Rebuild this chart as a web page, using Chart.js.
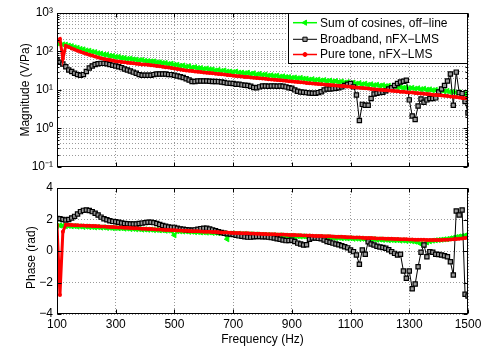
<!DOCTYPE html>
<html>
<head>
<meta charset="utf-8">
<script src="https://cdn.jsdelivr.net/npm/chart.js@4/dist/chart.umd.min.js"></script>
<style>
html, body { margin: 0; padding: 0; background: #fff; }
#wrap { position: relative; width: 486px; height: 347px; }
#wrap canvas { position: absolute; left: 0; }
</style>
</head>
<body>
<div id="wrap">
  <canvas id="magChart" width="486" height="178" style="top:0"></canvas>
  <canvas id="phaseChart" width="486" height="171" style="top:176px"></canvas>
</div>
<script>
// frequency points, every 10 Hz from 100 to 1500
var freqHz = [];
for (var f = 100; f <= 1500; f += 10) freqHz.push(f);

var seriesNames = ['Sum of cosines, off\u2212line', 'Broadband, nFX\u2212LMS', 'Pure tone, nFX\u2212LMS'];
var xTicks = [100, 300, 500, 700, 900, 1100, 1300, 1500];
var magDecades = [0.1, 1, 10, 100, 1000];
var magTickLabels = ['10\u207B\u00B9', '10\u2070', '10\u00B9', '10\u00B2', '10\u00B3'];
var phaseTicks = [-4, -2, 0, 2, 4];

// magnitude (V/Pa)
var magSumCos = [
  165, 158, 152, 150, 142, 137, 128, 124, 116, 113,
  106, 104, 98, 96, 90, 88, 83, 82, 77, 76,
  72, 72, 68, 67, 64, 65, 62, 61, 59, 60,
  57, 56, 55, 55, 52, 52, 50, 50, 47, 48,
  45, 45, 42, 43, 40, 41, 38, 39, 37, 37,
  35, 36, 34, 34, 32, 33, 31, 32, 30, 30,
  29, 30, 28, 28, 27, 28, 26, 27, 25, 26,
  24.5, 25, 23.5, 24, 23, 23.5, 22, 22.5, 21.5, 21.5,
  20.5, 21, 20, 20.5, 19.5, 19.5, 18.5, 19, 18, 18.5,
  17.5, 18, 17, 17.5, 16.5, 17, 16, 16.5, 15.5, 16,
  15, 15.5, 14.5, 15, 14, 14.5, 13.5, 14, 13.2, 13.6,
  12.8, 13.2, 12.5, 12.8, 12, 12.4, 11.7, 12, 11.3, 11.6,
  11, 11.3, 10.7, 11, 10.4, 10.7, 10.1, 10.3, 9.8, 10,
  9.5, 9.7, 9.2, 9.4, 8.8, 9, 8.5, 8.6, 8, 7.8,
  7.4
];
var magBroadband = [
  60, 52, 47, 40, 33, 30, 27, 25, 24, 25,
  30, 37, 42, 46, 48, 49, 49, 48, 46, 44,
  42, 40, 38, 35, 33, 31, 29, 27, 25, 24,
  24, 24, 24, 25, 26, 26, 26, 26, 25, 25,
  24, 23, 22, 21, 19.5, 18, 16.5, 16.5, 17, 17,
  17, 17, 16.8, 16.5, 16.5, 16.4, 16, 15.5, 15, 14.8,
  14.6, 14, 14, 13.5, 13.2, 13, 12.5, 11.5, 11.4, 12,
  12.7, 12.7, 12.5, 12.7, 12.7, 12.5, 12.7, 12.5, 12, 11.4,
  11, 10, 9.2, 8.8, 8.7, 8.5, 8.3, 8.2, 8.2, 8.5,
  9, 10, 10.5, 10.5, 10.8, 11, 11.4, 12, 13, 14,
  14.6, 12, 7.4, 1.6, 4.2, 4, 4, 6, 7.8, 8.2,
  8.5, 8.7, 9.5, 10.5, 11.4, 13, 14.6, 16, 16.8, 17.8,
  5.5, 2.1, 1.7, 3.8, 5.8, 4.8, 5.5, 6, 6, 6.2,
  8.8, 10.5, 13, 17, 26, 4, 29, 8.5, 8, 5,
  2.5
];
var magPureTone = [
  185, 210, 65, 140, 130, 120, 112, 105, 98, 92,
  87, 82, 78, 74, 70, 67, 64, 62, 60, 58,
  56, 55, 53, 52, 51, 50, 49, 48, 47, 46,
  46, 45, 44, 43, 42, 41, 40, 39, 38, 37,
  36, 35, 34, 33, 32, 31.5, 31, 30, 29.5, 29,
  28.5, 28, 27.5, 27, 26.5, 26, 25.5, 25, 24.5, 24,
  23.5, 23, 22.6, 22.2, 21.8, 21.5, 21.1, 20.8, 20.4, 20,
  19.7, 19.4, 19, 18.7, 18.4, 18.1, 17.8, 17.5, 17.2, 16.9,
  16.6, 16.3, 16, 15.7, 15.5, 15.2, 15, 14.7, 14.5, 14.2,
  14, 13.8, 13.6, 13.4, 13.2, 13, 12.8, 12.6, 12.4, 12.2,
  12, 11.8, 11.6, 11.4, 11.2, 11, 10.8, 10.6, 10.4, 10.3,
  10.1, 10, 9.8, 9.6, 9.5, 9.3, 9.2, 9, 8.9, 8.7,
  8.6, 8.5, 8.3, 8.2, 8.1, 7.9, 7.8, 7.7, 7.5, 7.4,
  7.3, 7.1, 7, 6.9, 6.7, 6.6, 6.5, 6.3, 6.2, 6.1,
  6
];

// phase (rad)
var phaseSumCos = [
  1.6, 1.62, 1.6, 1.58, 1.6, 1.57, 1.58, 1.55, 1.56, 1.53,
  1.55, 1.52, 1.53, 1.5, 1.52, 1.49, 1.5, 1.47, 1.48, 1.45,
  1.46, 1.44, 1.45, 1.42, 1.43, 1.4, 1.41, 1.38, 1.39, 1.36,
  1.37, 1.35, 1.36, 1.33, 1.34, 1.31, 1.32, 1.29, 1.3, 1.27,
  1.0, 1.26, 1.25, 1.24, 1.25, 1.22, 1.23, 1.2, 1.21, 1.18,
  1.19, 1.17, 1.18, 1.15, 1.16, 1.13, 1.14, 1.12, 0.75, 1.1,
  1.11, 1.08, 1.09, 1.07, 1.08, 1.05, 1.06, 1.04, 1.05, 1.02,
  1.03, 1.01, 1.02, 0.99, 1.0, 0.98, 0.99, 0.96, 0.97, 0.95,
  0.96, 0.93, 0.94, 0.92, 0.93, 0.9, 0.91, 0.89, 0.9, 0.87,
  0.88, 0.86, 0.87, 0.84, 0.85, 0.83, 0.84, 0.81, 0.82, 0.8,
  0.81, 0.78, 0.79, 0.77, 0.78, 0.75, 0.76, 0.74, 0.75, 0.72,
  0.73, 0.71, 0.72, 0.69, 0.7, 0.68, 0.69, 0.66, 0.67, 0.64,
  0.65, 0.62, 0.6, 0.55, 0.45, 0.4, 0.55, 0.62, 0.66, 0.68,
  0.7, 0.72, 0.74, 0.76, 0.8, 0.84, 0.88, 0.92, 0.95, 0.98,
  1.0
];
var phaseBroadband = [
  2.07, 2.05, 2.0, 1.97, 2.0, 2.1, 2.2, 2.35, 2.5, 2.58,
  2.6, 2.57, 2.5, 2.4, 2.28, 2.15, 2.05, 1.98, 1.92, 1.88,
  1.86, 1.82, 1.78, 1.75, 1.73, 1.72, 1.71, 1.72, 1.74, 1.77,
  1.8, 1.82, 1.82, 1.8, 1.75, 1.68, 1.62, 1.57, 1.53, 1.5,
  1.5, 1.45, 1.4, 1.38, 1.35, 1.33, 1.32, 1.34, 1.38, 1.42,
  1.44, 1.44, 1.4, 1.34, 1.28, 1.22, 1.17, 1.13, 1.1, 1.08,
  1.05, 1.0, 0.96, 0.93, 0.9, 0.88, 0.88, 0.9, 0.92, 0.92,
  0.9, 0.9, 0.88, 0.85, 0.82, 0.78, 0.74, 0.7, 0.66, 0.67,
  0.68, 0.6, 0.5, 0.44, 0.38, 0.4, 0.75, 0.82, 0.82, 0.8,
  0.78, 0.7, 0.6, 0.55, 0.5, 0.45, 0.4, 0.33, 0.27, 0.2,
  0.06, -0.04, -0.25, -0.84, 0.06, -0.21, 0.59, 0.45, 0.38, 0.3,
  0.26, 0.22, 0.17, 0.08, -0.04, -0.15, -0.25, -0.21, -1.27, -1.73,
  -1.27, -2.4, -2.1, -1.0, -0.08, 0.38, -0.36, -0.04, -0.08, -0.21,
  -0.22, -0.25, -0.3, -0.36, -0.68, -1.52, 2.54, 2.29, 2.6, -2.75,
  -2.86
];
var phasePureTone = [
  1.65, -2.8, 1.23, 1.66, 1.66, 1.65, 1.64, 1.63, 1.62, 1.62,
  1.61, 1.6, 1.59, 1.58, 1.57, 1.56, 1.55, 1.54, 1.53, 1.52,
  1.51, 1.5, 1.49, 1.48, 1.47, 1.46, 1.45, 1.44, 1.43, 1.42,
  1.41, 1.4, 1.39, 1.38, 1.37, 1.36, 1.35, 1.34, 1.33, 1.32,
  1.31, 1.3, 1.3, 1.29, 1.28, 1.27, 1.26, 1.26, 1.25, 1.24,
  1.23, 1.22, 1.22, 1.21, 1.2, 1.19, 1.18, 1.18, 1.17, 1.16,
  1.15, 1.15, 1.14, 1.13, 1.13, 1.12, 1.11, 1.11, 1.1, 1.09,
  1.08, 1.08, 1.07, 1.06, 1.06, 1.05, 1.04, 1.04, 1.03, 1.02,
  1.02, 1.01, 1.0, 1.0, 0.99, 0.98, 0.98, 0.97, 0.96, 0.96,
  0.95, 0.94, 0.94, 0.93, 0.92, 0.91, 0.9, 0.9, 0.89, 0.88,
  0.87, 0.86, 0.86, 0.85, 0.84, 0.83, 0.82, 0.82, 0.81, 0.8,
  0.8, 0.79, 0.78, 0.78, 0.77, 0.76, 0.76, 0.75, 0.74, 0.74,
  0.73, 0.73, 0.72, 0.72, 0.71, 0.71, 0.7, 0.7, 0.7, 0.7,
  0.7, 0.7, 0.71, 0.72, 0.73, 0.74, 0.76, 0.78, 0.8, 0.82,
  0.84
];

var GREEN = '#00ff00', RED = '#ff0000', BLACK = '#000000', SQUARE_FILL = '#9a9a9a';

Chart.defaults.font.family = '"Liberation Sans", Arial, Helvetica, sans-serif';
Chart.defaults.font.size = 12;
Chart.defaults.color = '#000';

function pairs(ys) {
  return freqHz.map(function(x, i) { return { x: x, y: ys[i] }; });
}

function makeDatasets(green, black, red) {
  return [{
    label: seriesNames[0], data: pairs(green), order: 3,
    borderColor: GREEN, backgroundColor: GREEN, borderWidth: 2,
    pointStyle: 'triangle', pointRotation: 270, pointRadius: 3,
    pointBorderWidth: 1, pointBackgroundColor: GREEN, pointBorderColor: GREEN
  }, {
    label: seriesNames[1], data: pairs(black), order: 2,
    borderColor: BLACK, backgroundColor: SQUARE_FILL, borderWidth: 1,
    pointStyle: 'rect', pointRadius: 3, pointBorderWidth: 1.2,
    pointBackgroundColor: SQUARE_FILL, pointBorderColor: BLACK
  }, {
    label: seriesNames[2], data: pairs(red), order: 1,
    borderColor: RED, backgroundColor: RED, borderWidth: 3,
    pointStyle: 'circle', pointRadius: 2, pointBorderWidth: 0,
    pointBackgroundColor: RED
  }];
}

// matlab style box with inward ticks
var framePlugin = {
  id: 'frame',
  afterDraw: function(chart) {
    var a = chart.chartArea, ctx = chart.ctx;
    var xs = chart.scales.x, ys = chart.scales.y;
    var L = Math.round(a.left) + 0.5, R = Math.round(a.right) - 0.5;
    var T = Math.round(a.top) + 0.5, B = Math.round(a.bottom) - 0.5;
    ctx.save();
    ctx.strokeStyle = '#000';
    ctx.lineWidth = 1;
    ctx.beginPath();
    xs.ticks.forEach(function(t) {
      var px = Math.round(xs.getPixelForValue(t.value)) + 0.5;
      ctx.moveTo(px, B); ctx.lineTo(px, B - 4);
      ctx.moveTo(px, T); ctx.lineTo(px, T + 4);
    });
    ys.ticks.forEach(function(t) {
      var py = Math.round(ys.getPixelForValue(t.value)) + 0.5;
      var len = (ys.type === 'logarithmic' && magDecades.indexOf(t.value) < 0) ? 2 : 4;
      ctx.moveTo(L, py); ctx.lineTo(L + len, py);
      ctx.moveTo(R, py); ctx.lineTo(R - len, py);
    });
    ctx.stroke();
    ctx.strokeRect(L, T, R - L, B - T);
    ctx.restore();
  }
};

// legend box in the upper right corner of the magnitude plot
var legendPlugin = {
  id: 'boxLegend',
  afterDraw: function(chart) {
    var a = chart.chartArea, ctx = chart.ctx;
    var x0 = 288.5, y0 = Math.round(a.top) + 0.5, w = Math.round(a.right) - 0.5 - x0, h = 50;
    var colors = [GREEN, BLACK, RED];
    var fills = [GREEN, SQUARE_FILL, RED];
    var rows = [22.7, 39.3, 54.5];
    ctx.save();
    ctx.fillStyle = '#fff';
    ctx.fillRect(x0, y0, w, h);
    ctx.strokeStyle = '#000';
    ctx.lineWidth = 1;
    ctx.strokeRect(x0, y0, w, h);
    chart.data.datasets.forEach(function(ds, i) {
      var y = rows[i];
      ctx.strokeStyle = colors[i];
      ctx.lineWidth = i === 1 ? 1 : 1.5;
      ctx.beginPath();
      ctx.moveTo(293, y); ctx.lineTo(317, y);
      ctx.stroke();
      ctx.fillStyle = fills[i];
      ctx.lineWidth = 1;
      Chart.helpers.drawPoint(ctx, {
        pointStyle: ds.pointStyle, rotation: ds.pointRotation || 0,
        radius: ds.pointRadius, borderWidth: 1
      }, 305, y);
    });
    ctx.fillStyle = '#000';
    ctx.font = '12px "Liberation Sans", Arial, sans-serif';
    ctx.textBaseline = 'middle';
    ctx.textAlign = 'left';
    chart.data.datasets.forEach(function(ds, i) {
      ctx.fillText(ds.label, 320, rows[i] + 0.5);
    });
    ctx.restore();
  }
};

var gridDash = { display: false, dash: [1, 2] };
var gridStyle = { color: '#9a9a9a', lineWidth: 1, drawTicks: false };

new Chart(document.getElementById('magChart'), {
  type: 'line',
  data: { datasets: makeDatasets(magSumCos, magBroadband, magPureTone) },
  options: {
    responsive: false,
    animation: false,
    layout: { padding: { left: 0, right: 18, top: 13, bottom: 8 } },
    plugins: { legend: { display: false }, tooltip: { enabled: false } },
    scales: {
      x: {
        type: 'linear', min: 100, max: 1500,
        afterBuildTicks: function(s) { s.ticks = xTicks.map(function(v) { return { value: v }; }); },
        ticks: { display: false },
        grid: gridStyle, border: gridDash,
        afterFit: function(s) { s.height = 0; }
      },
      y: {
        type: 'logarithmic', min: 0.1, max: 1000,
        afterBuildTicks: function(s) {
          var t = [];
          for (var d = 0; d < magDecades.length; d++) {
            for (var m = 1; m <= 9; m++) {
              t.push({ value: magDecades[d] * m });
              if (magDecades[d] === 1000) break;
            }
          }
          s.ticks = t;
        },
        ticks: {
          autoSkip: false, padding: 4,
          callback: function(v) {
            var k = magDecades.indexOf(v);
            return k < 0 ? '' : magTickLabels[k];
          }
        },
        grid: gridStyle, border: gridDash,
        title: { display: true, text: 'Magnitude (V/Pa)', padding: { top: 18, bottom: 0 } },
        afterFit: function(s) { s.width = 57; }
      }
    }
  },
  plugins: [framePlugin, legendPlugin]
});

new Chart(document.getElementById('phaseChart'), {
  type: 'line',
  data: { datasets: makeDatasets(phaseSumCos, phaseBroadband, phasePureTone) },
  options: {
    responsive: false,
    animation: false,
    layout: { padding: { left: 0, right: 18, top: 12, bottom: 0 } },
    plugins: { legend: { display: false }, tooltip: { enabled: false } },
    scales: {
      x: {
        type: 'linear', min: 100, max: 1500,
        afterBuildTicks: function(s) { s.ticks = xTicks.map(function(v) { return { value: v }; }); },
        ticks: {
          padding: 3, autoSkip: false, maxRotation: 0,
          callback: function(v) { return String(v); }
        },
        grid: gridStyle, border: gridDash,
        title: { display: true, text: 'Frequency (Hz)', padding: { top: 4, bottom: 0 } },
        afterFit: function(s) { s.height = 33; }
      },
      y: {
        type: 'linear', min: -4, max: 4,
        afterBuildTicks: function(s) { s.ticks = phaseTicks.map(function(v) { return { value: v }; }); },
        ticks: {
          padding: 4,
          callback: function(v) { return String(v).replace('-', '\u2212'); }
        },
        grid: gridStyle, border: gridDash,
        title: { display: true, text: 'Phase (rad)    ', padding: { top: 24, bottom: 0 } },
        afterFit: function(s) { s.width = 57; }
      }
    }
  },
  plugins: [framePlugin]
});
</script>
</body>
</html>
